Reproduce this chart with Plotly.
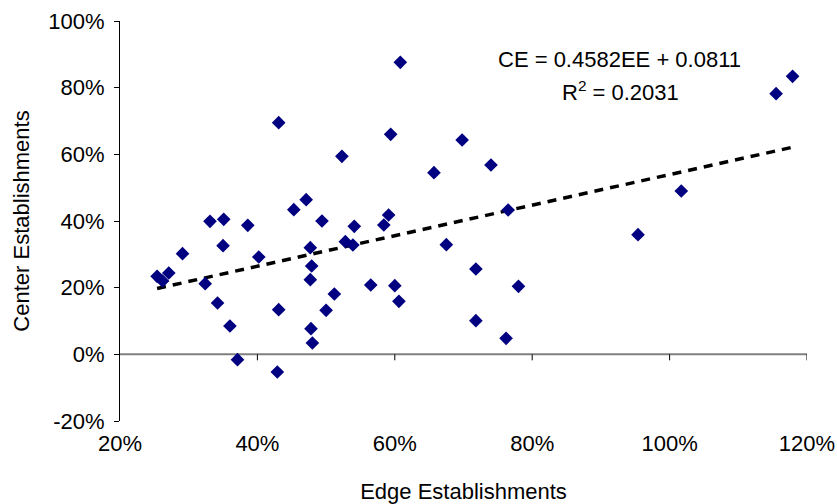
import plotly.graph_objects as go

# Data (fractions)
edge = [0.254, 0.262, 0.271, 0.291, 0.324, 0.331, 0.342, 0.350, 0.351, 0.360,
        0.371, 0.386, 0.402, 0.429, 0.431, 0.431, 0.453, 0.471, 0.477, 0.479,
        0.477, 0.478, 0.480, 0.494, 0.500, 0.512, 0.523, 0.528, 0.539, 0.541,
        0.565, 0.584, 0.591, 0.594, 0.600, 0.606, 0.608, 0.657, 0.675, 0.698,
        0.718, 0.718, 0.740, 0.762, 0.765, 0.780, 0.954, 1.017, 1.155, 1.179]
center = [0.234, 0.220, 0.244, 0.302, 0.212, 0.399, 0.154, 0.326, 0.405, 0.085,
          -0.016, 0.387, 0.292, -0.053, 0.134, 0.695, 0.434, 0.464, 0.320, 0.265,
          0.224, 0.077, 0.034, 0.400, 0.132, 0.181, 0.594, 0.338, 0.328, 0.384,
          0.208, 0.388, 0.418, 0.660, 0.206, 0.159, 0.876, 0.545, 0.329, 0.643,
          0.256, 0.101, 0.568, 0.048, 0.433, 0.204, 0.359, 0.490, 0.782, 0.834]

slope = 0.4582
intercept = 0.0811
r_squared = 0.2031

x_ticks = [0.2, 0.4, 0.6, 0.8, 1.0, 1.2]
y_ticks = [-0.2, 0.0, 0.2, 0.4, 0.6, 0.8, 1.0]
x_ticktext = ["20%", "40%", "60%", "80%", "100%", "120%"]
y_ticktext = ["-20%", "0%", "20%", "40%", "60%", "80%", "100%"]

x_title = "Edge Establishments"
y_title = "Center Establishments"
eq_text = "CE = 0.4582EE + 0.0811"
r2_text = "R<sup>2</sup> = 0.2031"

FONT = "Liberation Sans, Arial, sans-serif"

fig = go.Figure()

x_fit = [min(edge), max(edge)]
y_fit = [slope * v + intercept for v in x_fit]
fig.add_trace(go.Scatter(
    x=x_fit, y=y_fit, mode="lines",
    line=dict(color="black", width=3.5, dash="9px,7px"),
    hoverinfo="skip", showlegend=False,
))

fig.add_trace(go.Scatter(
    x=edge, y=center, mode="markers",
    marker=dict(symbol="diamond", size=10.5, color="#000080",
                line=dict(width=0)),
    showlegend=False,
))

# x axis line crossing at y = 0 with downward ticks
shapes = [dict(type="line", xref="x", yref="y", x0=x_ticks[0], x1=x_ticks[-1],
               y0=0, y1=0, line=dict(color="#808080", width=2), layer="below")]
for t in x_ticks[1:]:
    shapes.append(dict(type="line", xref="x", yref="y", ysizemode="pixel",
                       yanchor=0, x0=t, x1=t, y0=0, y1=-6,
                       line=dict(color="black", width=1)))

fig.update_layout(
    width=837, height=504,
    margin=dict(l=120, r=30, t=21, b=83),
    paper_bgcolor="white", plot_bgcolor="white",
    font=dict(family=FONT, size=22, color="black"),
    shapes=shapes,
    xaxis=dict(
        range=[0.2, 1.2], tickvals=x_ticks, ticktext=x_ticktext,
        showgrid=False, zeroline=False, showline=False, ticks="",
        ticklabelstandoff=7, automargin=False,
        title=dict(text=x_title, font=dict(size=22), standoff=31),
    ),
    yaxis=dict(
        range=[-0.2, 1.0], tickvals=y_ticks, ticktext=y_ticktext,
        showgrid=False, zeroline=False, showline=True, linecolor="black",
        linewidth=1, ticks="outside", ticklen=5, tickcolor="black",
        ticklabelstandoff=5, automargin=False,
        title=dict(text=y_title, font=dict(size=22), standoff=12),
    ),
    annotations=[
        dict(x=0.927, y=0.885, xref="x", yref="y", text=eq_text,
             showarrow=False, font=dict(size=22)),
        dict(x=0.928, y=0.789, xref="x", yref="y", text=r2_text,
             showarrow=False, font=dict(size=22)),
    ],
)

fig.write_html("out.html")
